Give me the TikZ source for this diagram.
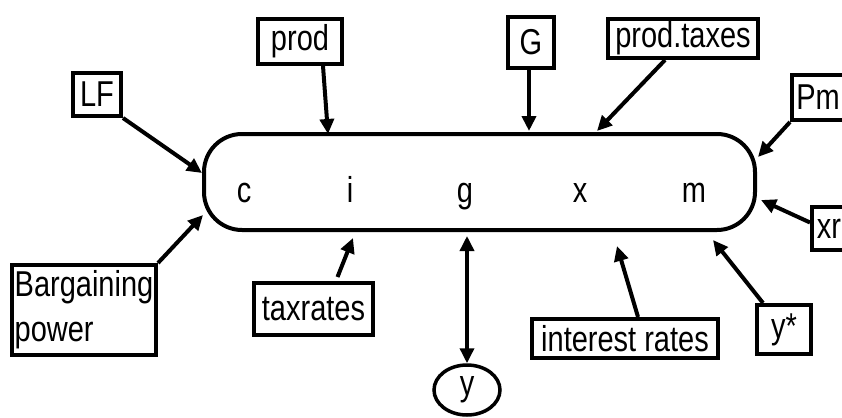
\documentclass[tikz,border=0pt]{standalone}
\usepackage{fontspec}
\usepackage{graphicx}
\setmainfont{Liberation Sans}
\usetikzlibrary{arrows.meta,shapes.geometric}
\newcommand\tall[1]{\scalebox{1}[1.24]{#1}}

\begin{document}
\begin{tikzpicture}[x=1pt,y=-1pt,
  lbl/.style={font=\fontsize{29}{36}\selectfont},
  box/.style={lbl,draw,line width=4pt,inner sep=0pt},
  letter/.style={lbl,anchor=base,inner sep=0pt},
  arr/.style={line width=4pt,-{Triangle[length=15pt,width=14pt]}},
  dblarr/.style={line width=3.5pt,{Triangle[length=15pt,width=14pt]}-{Triangle[length=15pt,width=14pt]}}]
  \useasboundingbox (0,0) rectangle (842,417);
  % the block of components
  \node[draw,line width=4pt,rounded corners=38pt,minimum width=551pt,minimum height=96pt] (pill) at (479.5,182) {};
  \node[letter] (c) at (244,202) {\tall{c}};
  \node[letter] (i) at (350,202) {\tall{i}};
  \node[letter] (g) at (465,202) {\tall{g}};
  \node[letter] (x) at (580,202) {\tall{x}};
  \node[letter] (m) at (694,202) {\tall{m}};
  % boxes above
  \node[box,minimum width=48pt,minimum height=43pt] (LF) at (97,94.5) {\tall{LF}};
  \node[box,minimum width=84pt,minimum height=45pt] (prod) at (300,41.5) {\tall{prod}};
  \node[box,minimum width=46pt,minimum height=51pt] (G) at (531,42.5) {\tall{G}};
  \node[box,minimum width=150pt,minimum height=39pt] (ptax) at (683,38.5) {\tall{prod.taxes}};
  \node[box,anchor=west,minimum width=52pt,minimum height=45pt] (Pm) at (790,97.5) {\tall{Pm}};
  \node[box,anchor=west,minimum width=34pt,minimum height=43pt] (xr) at (810,228.5) {\tall{xr}};
  % boxes below
  \node[box,minimum width=144pt,minimum height=90pt] (bp) at (84,310) {\tall{\begin{tabular}{@{}l@{}}Bargaining\\power\end{tabular}}};
  \node[box,minimum width=119pt,minimum height=52pt] (tax) at (313.5,309) {\tall{taxrates}};
  \node[box,minimum width=186pt,minimum height=39pt] (ir) at (625,338.5) {\tall{interest rates}};
  \node[box,minimum width=54pt,minimum height=49pt] (ystar) at (784,329.5) {\tall{y*}};
  \node[draw,ellipse,line width=3.5pt,inner sep=0pt,lbl,minimum width=66pt,minimum height=50pt] (y) at (467,390) {\tall{y}};
  % arrow tips on the block
  \coordinate (tLF) at (202,173);
  \coordinate (tprod) at (328,134);
  \coordinate (tG) at (529,131);
  \coordinate (tptax) at (597,131);
  \coordinate (tPm) at (758,157);
  \coordinate (txr) at (761,200);
  \coordinate (tbp) at (203,215);
  \coordinate (ttax) at (353,238);
  \coordinate (tg) at (467,236);
  \coordinate (tir) at (617,246);
  \coordinate (tystar) at (713,240);
  \draw[arr] (LF.south east) -- (tLF);
  \draw[arr] ([xshift=23pt]prod.south) -- (tprod);
  \draw[arr] ([xshift=-2pt]G.south) -- (tG);
  \draw[arr] ([xshift=-18pt]ptax.south) -- (tptax);
  \draw[arr] (Pm.south west) -- (tPm);
  \draw[arr] ([yshift=6pt]xr.west) -- (txr);
  \draw[arr] (bp.north east) -- (tbp);
  \draw[arr] ([xshift=24pt,yshift=4pt]tax.north) -- (ttax);
  \draw[dblarr] (tg) -- (y.north);
  \draw[arr] ([xshift=13pt]ir.north) -- (tir);
  \draw[arr] ([xshift=-21pt]ystar.north) -- (tystar);
\end{tikzpicture}
\end{document}
